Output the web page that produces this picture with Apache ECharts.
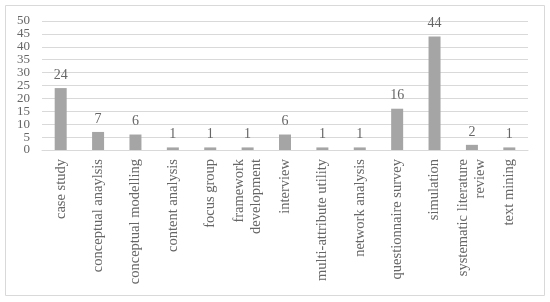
<!DOCTYPE html>
<html><head><meta charset="utf-8">
<script src="https://cdn.jsdelivr.net/npm/echarts@6/dist/echarts.min.js"></script>
<style>html,body{margin:0;padding:0;background:#fff}#c{width:550px;height:302px}</style>
</head><body><div id="c"></div>
<script>
const categories = ['case study','conceptual anaylsis','conceptual modelling','content analysis','focus group','framework\ndevelopment','interview','multi-attribute utility','network analysis','questionnaire survey','simulation','systematic literature\nreview','text mining'];
const values = [24,7,6,1,1,1,6,1,1,16,44,2,1];
const yTicks = {min:0,max:50,interval:5};
const chart = echarts.init(document.getElementById('c'));
const font = 'Liberation Serif, DejaVu Serif, serif';
chart.setOption({
  animation:false,
  graphic:[{type:'rect',shape:{x:5.5,y:5.5,width:539,height:290},style:{fill:'none',stroke:'#d9d9d9',lineWidth:1}}],
  grid:{left:42,right:22,top:21,bottom:152},
  xAxis:{type:'category',data:categories,
    axisLine:{lineStyle:{color:'#d9d9d9'}},axisTick:{show:false},
    axisLabel:{rotate:90,interval:0,color:'#666666',fontFamily:font,fontSize:14.5,lineHeight:17,margin:9}},
  yAxis:{type:'value',min:yTicks.min,max:yTicks.max,interval:yTicks.interval,
    axisLine:{show:false},axisTick:{show:false},
    splitLine:{lineStyle:{color:'#d9d9d9'}},
    axisLabel:{color:'#666666',fontFamily:font,fontSize:13,lineHeight:12,margin:12}},
  series:[{type:'bar',data:values,barWidth:12,itemStyle:{color:'#a5a5a5'},
    label:{show:true,position:'top',color:'#666666',fontFamily:font,fontSize:14,distance:6}}]
});
</script></body></html>
